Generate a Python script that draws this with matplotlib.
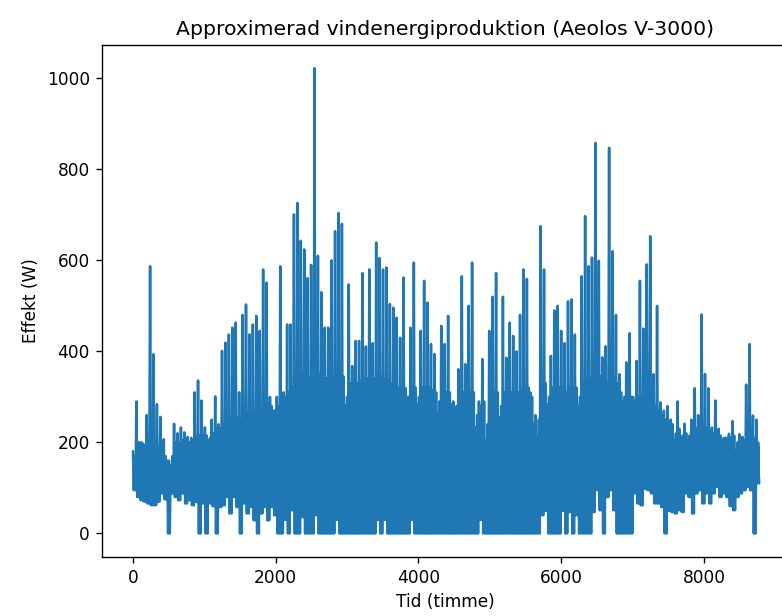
import numpy as np
import matplotlib

matplotlib.use("Agg")  # headless
import matplotlib.pyplot as plt

plt.rcParams["path.simplify"] = False  # keep every zigzag of the dense series

# Approximate hourly wind power, every 48 hours:
# the spike tops, the lowest dips and the top of the dense core band.
STEG = 48
topp = [
    180, 290, 200, 197, 260, 587, 394, 284, 256, 207,
    160, 150, 241, 220, 233, 222, 212, 210, 310, 336,
    292, 233, 205, 250, 301, 240, 401, 419, 437, 452,
    463, 310, 480, 503, 437, 459, 478, 445, 580, 551,
    300, 270, 300, 587, 310, 459, 459, 701, 726, 643,
    624, 561, 590, 1022, 610, 530, 452, 452, 600, 664,
    704, 680, 281, 547, 368, 423, 423, 572, 411, 580,
    418, 639, 605, 580, 584, 504, 496, 474, 430, 562,
    300, 452, 595, 284, 445, 555, 507, 416, 394, 264,
    456, 416, 478, 284, 264, 361, 565, 372, 500, 595,
    233, 290, 383, 204, 445, 520, 572, 255, 520, 386,
    463, 434, 400, 480, 580, 559, 310, 241, 212, 675,
    580, 284, 390, 490, 500, 445, 418, 510, 514, 437,
    280, 565, 697, 587, 606, 858, 599, 387, 411, 847,
    620, 480, 350, 290, 376, 440, 300, 379, 555, 450,
    591, 653, 350, 500, 288, 270, 280, 250, 204, 290,
    204, 241, 204, 250, 319, 260, 481, 350, 319, 233,
    292, 230, 204, 210, 219, 247, 182, 218, 212, 327,
    416, 259, 250,
]
botten = [
    95, 80, 73, 70, 66, 62, 62, 70, 88, 75,
    0, 88, 80, 73, 88, 66, 73, 62, 69, 0,
    66, 0, 66, 60, 0, 58, 62, 80, 44, 80,
    58, 0, 66, 44, 58, 29, 0, 44, 58, 29,
    58, 40, 0, 0, 30, 0, 51, 0, 0, 36,
    0, 0, 0, 40, 0, 0, 0, 0, 0, 30,
    0, 0, 0, 0, 0, 0, 0, 0, 0, 0,
    0, 30, 0, 30, 0, 0, 0, 0, 0, 0,
    0, 30, 0, 0, 0, 0, 0, 0, 0, 0,
    0, 0, 0, 0, 0, 0, 0, 0, 0, 0,
    0, 30, 0, 0, 0, 0, 0, 0, 0, 0,
    0, 0, 0, 0, 0, 0, 0, 0, 0, 40,
    50, 0, 0, 0, 0, 50, 0, 47, 0, 40,
    0, 0, 0, 0, 47, 95, 51, 0, 80, 95,
    51, 0, 0, 0, 0, 0, 88, 66, 62, 98,
    95, 88, 66, 66, 58, 0, 50, 47, 44, 51,
    47, 88, 80, 44, 88, 95, 66, 88, 66, 88,
    102, 80, 88, 80, 60, 51, 80, 88, 95, 102,
    95, 0, 110,
]
karna = [
    170, 200, 200, 190, 190, 210, 200, 190, 180, 170,
    160, 170, 200, 200, 205, 205, 200, 200, 210, 215,
    215, 215, 210, 220, 230, 230, 240, 245, 250, 255,
    255, 250, 260, 265, 265, 270, 270, 275, 280, 285,
    280, 270, 280, 300, 300, 310, 320, 340, 350, 350,
    345, 340, 340, 350, 350, 350, 340, 340, 345, 350,
    350, 345, 300, 330, 330, 330, 335, 340, 340, 340,
    340, 345, 345, 340, 335, 330, 325, 320, 320, 320,
    300, 320, 320, 300, 320, 320, 320, 315, 310, 290,
    310, 310, 310, 290, 280, 300, 310, 310, 310, 310,
    260, 280, 290, 240, 300, 310, 310, 280, 310, 310,
    310, 310, 310, 315, 320, 320, 300, 260, 250, 320,
    330, 300, 320, 320, 320, 320, 310, 320, 320, 320,
    300, 330, 340, 340, 340, 345, 345, 330, 330, 340,
    340, 330, 310, 300, 300, 300, 290, 300, 300, 300,
    300, 300, 280, 270, 260, 250, 245, 240, 220, 230,
    215, 220, 215, 220, 230, 230, 235, 230, 225, 220,
    220, 215, 210, 210, 210, 215, 200, 210, 205, 220,
    220, 210, 200,
]
sista_timme, sista_effekt = 8759, 189

# one cycle per 48 h: spike top, dip, core top, dip
timmar = np.arange(len(topp)) * STEG
tid = np.column_stack([timmar, timmar + 12, timmar + 24, timmar + 36]).ravel()
effekt = np.column_stack([topp, botten, karna, botten]).ravel()
tid = np.append(tid, sista_timme)
effekt = np.append(effekt, sista_effekt)

DPI = 122
fig = plt.figure(figsize=(782 / DPI, 616 / DPI), dpi=DPI)
# the reference is cropped on the right, so the axes run past the edge
ax = fig.add_axes([101.7 / 782, 59.3 / 616, 687.6 / 782, 511.7 / 616])
ax.plot(tid, effekt)
ax.set_title("Approximerad vindenergiproduktion (Aeolos V-3000)")
ax.set_xlabel("Tid (timme)")
ax.set_ylabel("Effekt (W)")
ax.set_xlim(-438, 9197)
ax.set_ylim(-51, 1073)
fig.savefig("out.png", dpi=DPI)
plt.close(fig)
